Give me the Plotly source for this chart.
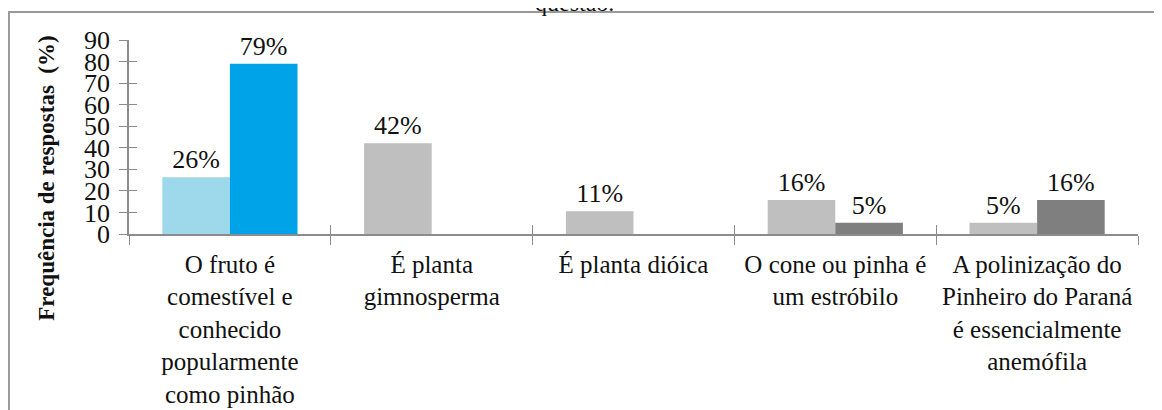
import plotly.graph_objects as go

categories = [
    "O fruto é<br>comestível e<br>conhecido<br>popularmente<br>como pinhão",
    "É planta<br>gimnosperma",
    "É planta dióica",
    "O cone ou pinha é<br>um estróbilo",
    "A polinização do<br>Pinheiro do Paraná<br>é essencialmente<br>anemófila",
]
serie_a = [26.32, 42.11, 10.53, 15.79, 5.26]
serie_b = [78.95, None, None, 5.26, 15.79]
cores_a = ["#9DD9EA", "#BFBFBF", "#BFBFBF", "#BFBFBF", "#BFBFBF"]
cores_b = ["#00A2E8", "#7F7F7F", "#7F7F7F", "#7F7F7F", "#7F7F7F"]

serif = "Liberation Serif"
cinza = "#8c8c8c"


def rotulos(vals):
    return [f"{round(v)}%" if v is not None else "" for v in vals]


fig = go.Figure()
for vals, cores in [(serie_a, cores_a), (serie_b, cores_b)]:
    fig.add_trace(go.Bar(x=categories, y=vals, marker_color=cores, marker_line_width=0,
                         text=rotulos(vals), textposition="outside", cliponaxis=False,
                         textfont=dict(family=serif, size=26, color="#111")))
# traco vazio so para ativar os eixos sobrepostos (tracos que cruzam a linha)
fig.add_trace(go.Scatter(x=[], y=[], xaxis="x2", yaxis="y2", hoverinfo="skip"))

# a pagina tem 8px de margem no body: o grafico e deslocado 8px para cima/esquerda
fig.update_layout(
    width=1162, height=410,
    margin=dict(l=121, r=32, t=32, b=184, autoexpand=False),
    barmode="group", bargap=0.33, bargroupgap=0,
    showlegend=False,
    plot_bgcolor="white", paper_bgcolor="white",
    font=dict(family=serif, size=25, color="#111"),
)
fig.update_xaxes(
    type="category", tickson="boundaries", ticks="outside", ticklen=9,
    tickcolor=cinza, showline=True, linecolor=cinza, linewidth=1.5,
    showgrid=False, automargin=False, ticklabelstandoff=7,
    tickfont=dict(family=serif, size=25, color="#111"),
)
fig.update_yaxes(
    range=[0, 90], dtick=10, ticks="outside", ticklen=8, tickcolor=cinza,
    showline=True, linecolor=cinza, linewidth=1.5, showgrid=False, zeroline=False,
    automargin=False, ticklabelstandoff=4,
    tickfont=dict(family=serif, size=26, color="#111"),
)

n = len(categories)
fig.update_layout(
    xaxis2=dict(overlaying="x", anchor="y2", range=[-0.5, n - 0.5],
                tickvals=[i - 0.5 for i in range(n + 1)], ticks="inside", ticklen=9,
                tickcolor=cinza, showticklabels=False, showline=False, showgrid=False,
                zeroline=False),
    yaxis2=dict(overlaying="y", anchor="x2", range=[0, 90], dtick=10, ticks="inside",
                ticklen=8, tickcolor=cinza, showticklabels=False, showline=False,
                showgrid=False, zeroline=False),
)

# titulo do eixo y
fig.add_annotation(text="<b>Frequência de respostas  (%)</b>", textangle=-90,
                   xref="paper", yref="paper", x=-0.0813, y=0.29,
                   xanchor="center", yanchor="middle",
                   showarrow=False, font=dict(family=serif, size=23, color="#111"))
# legenda cortada no topo
fig.add_annotation(text="questão.", xref="paper", yref="paper", x=0.442, y=1.114,
                   xanchor="center", yanchor="bottom", showarrow=False,
                   font=dict(family=serif, size=24, color="#111"))
# moldura
fig.add_shape(type="rect", xref="paper", yref="paper", x0=-0.119, y0=-1.2, x1=1.1, y1=1.144,
              line=dict(color="#999", width=2), layer="below")

fig.write_html("out.html")
